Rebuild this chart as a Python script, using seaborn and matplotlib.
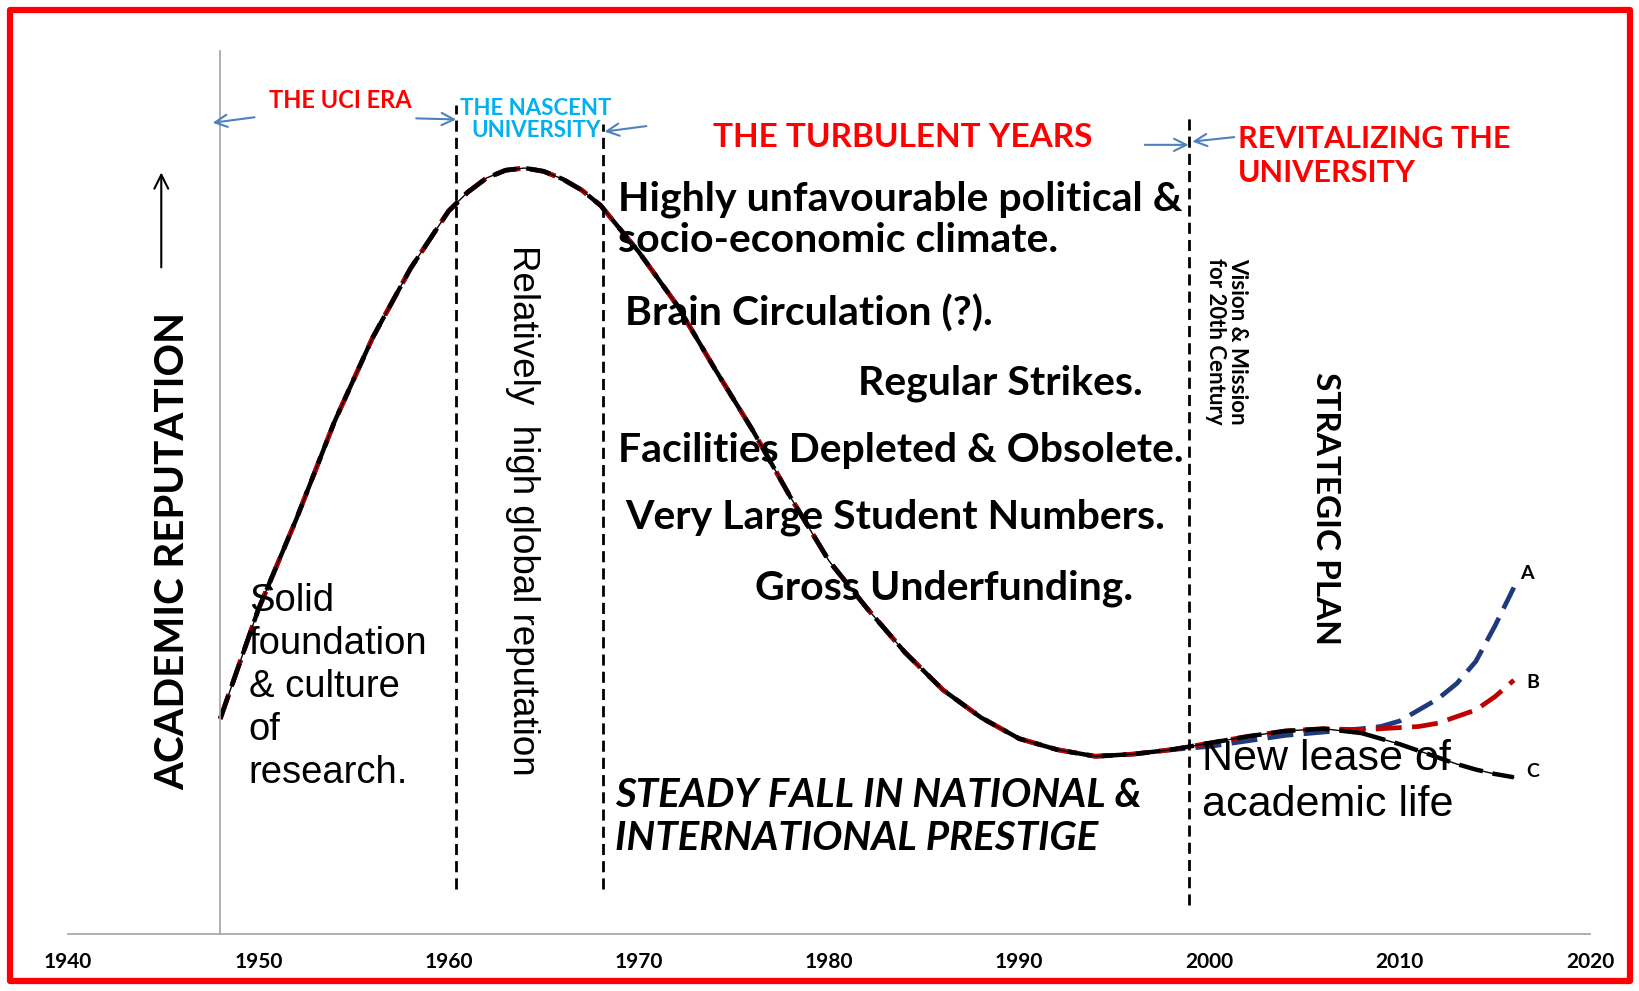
import matplotlib
matplotlib.use("Agg")
import matplotlib.pyplot as plt
import matplotlib.patches as mpatches
import seaborn as sns

# Reputation curve (years on x, arbitrary reputation units on y)
YEARS = [1948, 1950, 1952, 1954, 1956, 1958, 1960, 1961, 1962, 1963, 1964,
         1965, 1966, 1967, 1968, 1970, 1972, 1974, 1976, 1978, 1980, 1982,
         1984, 1986, 1988, 1990, 1992, 1994, 1996, 1998, 2000, 2002, 2004,
         2006, 2008, 2009, 2010, 2011, 2012, 2013, 2014, 2015, 2016]
HISTORY = [1.95, 2.94, 3.76, 4.64, 5.40, 6.03, 6.55, 6.72, 6.85, 6.92, 6.94,
           6.91, 6.84, 6.74, 6.60, 6.18, 5.70, 5.12, 4.56, 3.95, 3.38, 2.95,
           2.55, 2.21, 1.96, 1.77, 1.67, 1.61, 1.63, 1.67, 1.73, 1.79, 1.84,
           1.86]
HISTORY_A = [1.95, 2.94, 3.76, 4.64, 5.40, 6.03, 6.55, 6.72, 6.85, 6.92, 6.94,
             6.91, 6.84, 6.74, 6.60, 6.18, 5.70, 5.12, 4.56, 3.95, 3.38, 2.95,
             2.55, 2.21, 1.96, 1.77, 1.67, 1.61, 1.63, 1.67, 1.70, 1.75, 1.80,
             1.83]
TAIL_A = [1.86, 1.88, 1.93, 2.03, 2.13, 2.27, 2.47, 2.79, 3.14]
TAIL_B = [1.85, 1.86, 1.87, 1.88, 1.91, 1.97, 2.03, 2.15, 2.30]
TAIL_C = [1.82, 1.77, 1.72, 1.66, 1.60, 1.54, 1.49, 1.45, 1.42]
SCENARIO_A = HISTORY_A + TAIL_A
SCENARIO_B = HISTORY + TAIL_B
SCENARIO_C = HISTORY + TAIL_C

X_TICKS = [1940, 1950, 1960, 1970, 1980, 1990, 2000, 2010, 2020]
Y_TICKS = [0, 1, 2, 3, 4, 5, 6, 7, 8]

# era boundaries (dashed verticals)
DIVIDER_YEARS = [1960.4, 1968.1, 1998.9]
DIVIDER_TOPS = [7.51, 7.34, 7.40]
DIVIDER_BOTTOMS = [0.41, 0.41, 0.26]

# small blue arrows marking the era limits: tail -> head
ARROW_TAIL = [(1949.8, 7.40), (1958.3, 7.39), (1970.4, 7.32), (1996.6, 7.15), (2001.3, 7.22)]
ARROW_HEAD = [(1947.6, 7.35), (1960.4, 7.38), (1968.2, 7.27), (1998.9, 7.15), (1999.1, 7.18)]

TURBULENT_POINTS = [
    ("Highly unfavourable political &\nsocio-economic climate.", 1968.9, 6.47),
    ("Brain Circulation (?).", 1969.3, 5.62),
    ("Regular Strikes.", 1981.5, 4.99),
    ("Facilities Depleted & Obsolete.", 1968.9, 4.38),
    ("Very Large Student Numbers.", 1969.3, 3.78),
    ("Gross Underfunding.", 1976.1, 3.13),
]

RED = "#FF0000"
NAVY = "#1F3A7A"
DARK_RED = "#C00000"
AXIS_GREY = "#A6A6A6"
ARROW_BLUE = "#4F81BD"

sns.set_theme(style="white")
plt.rcParams["font.family"] = ["Lato", "DejaVu Sans"]
plt.rcParams["text.color"] = "black"
plt.rcParams["xtick.color"] = "black"

fig = plt.figure(figsize=(16.4, 9.91), dpi=100)
ax = fig.add_axes([0.0415, 0.0575, 0.928, 0.891])

n_hist = len(HISTORY)
dash = (0, (5.5, 2.2))
sns.lineplot(x=YEARS, y=SCENARIO_A, ax=ax, color=NAVY, lw=3.4, linestyle=dash)
sns.lineplot(x=YEARS, y=SCENARIO_B, ax=ax, color=DARK_RED, lw=3.4, linestyle=dash)
sns.lineplot(x=YEARS[:n_hist + 1], y=SCENARIO_C[:n_hist + 1], ax=ax, color="black",
             lw=3.2, linestyle=dash)
sns.lineplot(x=YEARS[n_hist:], y=SCENARIO_C[n_hist:], ax=ax, color="black",
             lw=3.2, linestyle=dash)
sns.lineplot(x=YEARS, y=SCENARIO_C, ax=ax, color="black", lw=1.0)

ax.vlines(DIVIDER_YEARS, DIVIDER_BOTTOMS, DIVIDER_TOPS, colors="black",
          linestyles=(0, (4, 2.2)), lw=2.0)

for tail, head in zip(ARROW_TAIL, ARROW_HEAD):
    ax.annotate("", xy=head, xytext=tail, annotation_clip=False,
                arrowprops=dict(arrowstyle="->", color=ARROW_BLUE, lw=1.5,
                                mutation_scale=22, shrinkA=0, shrinkB=0))

# axes styling
ax.set_xlim(1940, 2020)
ax.set_ylim(0, 8)
ax.set_xticks(X_TICKS)
ax.set_xticklabels([str(t) for t in X_TICKS], fontweight="bold", fontsize=15)
ax.set_yticks(Y_TICKS)
ax.set_yticklabels([])
for side in ["top", "right"]:
    ax.spines[side].set_visible(False)
ax.spines["left"].set_position(("data", 1948))
ax.spines["left"].set_color(AXIS_GREY)
ax.spines["bottom"].set_color(AXIS_GREY)
ax.tick_params(axis="x", direction="out", length=8, color=AXIS_GREY, pad=5)
ax.tick_params(axis="y", direction="in", length=7, color=AXIS_GREY)
ax.set_xlabel("")
ax.set_ylabel("")
ax.grid(False)

# headings
ax.text(1954.3, 7.55, "THE UCI ERA", color=RED, fontsize=17, fontweight="bold",
        ha="center", va="center")
ax.text(1964.6, 7.38, "THE NASCENT\nUNIVERSITY", color="#00B0F0", fontsize=16,
        fontweight="bold", ha="center", va="center", linespacing=1.1)
ax.text(1983.9, 7.22, "THE TURBULENT YEARS", color=RED, fontsize=24,
        fontweight="bold", ha="center", va="center")
ax.text(2001.5, 7.05, "REVITALIZING THE\nUNIVERSITY", color=RED, fontsize=22,
        fontweight="bold", ha="left", va="center", linespacing=1.25)

for label, x, y in TURBULENT_POINTS:
    ax.text(x, y, label, fontsize=29.5, fontweight="bold", ha="left", va="center",
            linespacing=1.15)

ax.text(1968.75, 1.06, "STEADY FALL IN NATIONAL &\nINTERNATIONAL PRESTIGE",
        fontsize=29, fontweight="bold", fontstyle="italic", ha="left",
        va="center", linespacing=1.2)

arial = ["Liberation Sans", "DejaVu Sans"]
ax.text(1949.5, 2.24, "Solid\nfoundation\n& culture\nof\nresearch.", family=arial,
        fontsize=27.5, ha="left", va="center", linespacing=1.25)
ax.text(1963.9, 3.84, "Relatively  high global reputation", family=arial,
        fontsize=26.5, rotation=-90, ha="center", va="center")
ax.text(1999.6, 1.38, "New lease of\nacademic life", family=arial, fontsize=31,
        ha="left", va="center", linespacing=1.2)

ax.text(2000.9, 5.37, "Vision & Mission\nfor 20th Century", fontsize=16,
        fontweight="bold", rotation=-90, ha="center", va="center",
        linespacing=1.05)
ax.text(2006.1, 3.86, "STRATEGIC PLAN", fontsize=24, fontweight="bold",
        rotation=-90, ha="center", va="center")

for letter, x, y in [("A", 2016.7, 3.27), ("B", 2017.0, 2.28), ("C", 2017.0, 1.47)]:
    ax.text(x, y, letter, fontsize=14, fontweight="bold", ha="center", va="center")

ax.text(1945.5, 3.47, "ACADEMIC REPUTATION", fontsize=29, fontweight="bold",
        rotation=90, ha="center", va="center")
ax.annotate("", xy=(1944.9, 6.90), xytext=(1944.9, 6.04), annotation_clip=False,
            arrowprops=dict(arrowstyle="->", color="black", lw=1.5,
                            mutation_scale=25, shrinkA=0, shrinkB=0))

# red frame around the whole slide
fig.patches.append(mpatches.Rectangle((0.006, 0.01), 0.988, 0.98,
                                      transform=fig.transFigure, fill=False,
                                      edgecolor=RED, lw=4.5, joinstyle="round"))

fig.savefig("out.png", dpi=100, facecolor="white")
